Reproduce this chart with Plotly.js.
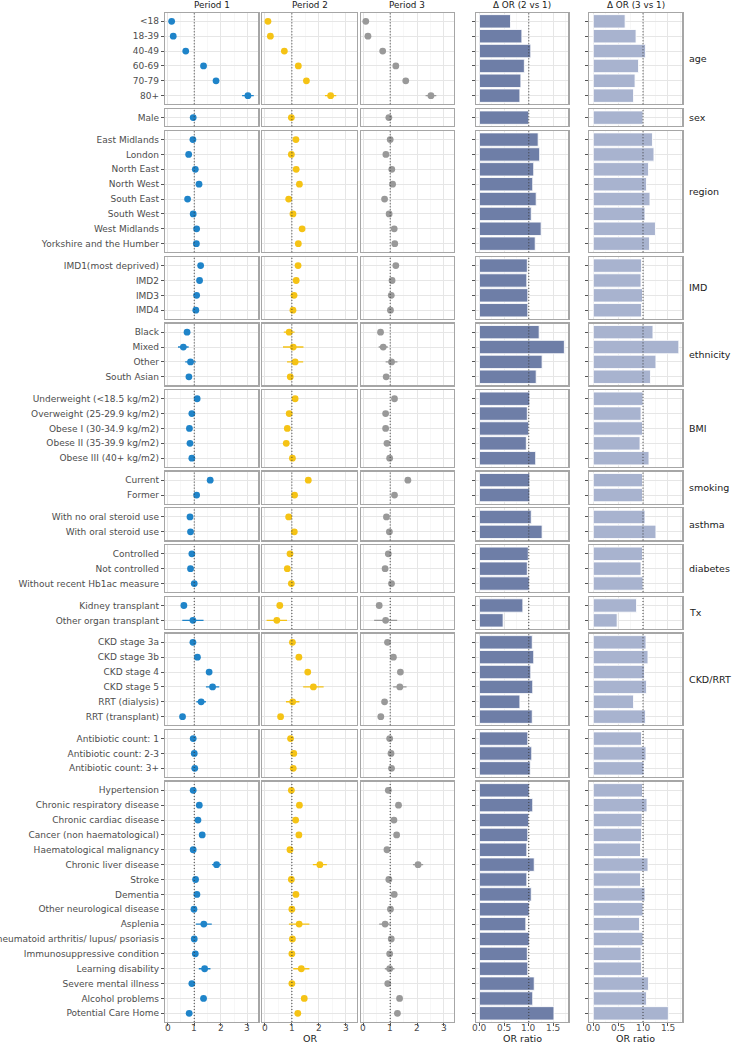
<!DOCTYPE html>
<html>
<head>
<meta charset="utf-8">
<script src="https://cdn.plot.ly/plotly-3.0.1.min.js"></script>
<style>
html,body{margin:0;padding:0;background:#fff;}
#chart{width:733px;height:1044px;}
</style>
</head>
<body>
<div id="chart"></div>
<script>
// ---------------- DATA ----------------
const columnTitles = ['Period 1', 'Period 2', 'Period 3', 'Δ OR (2 vs 1)', 'Δ OR (3 vs 1)'];
const facetLabels = ['age', 'sex', 'region', 'IMD', 'ethnicity', 'BMI', 'smoking', 'asthma', 'diabetes', 'Tx', 'CKD/RRT', '', ''];
const orTicks = [0, 1, 2, 3];
const ratioTicks = [0, 0.5, 1, 1.5];

const ageLabels = ['<18', '18-39', '40-49', '60-69', '70-79', '80+'];
const ageP1 = [0.15, 0.21, 0.68, 1.35, 1.82, 3.02];
const ageP2 = [0.11, 0.20, 0.72, 1.24, 1.54, 2.44];
const ageP3 = [0.09, 0.17, 0.72, 1.21, 1.58, 2.52];
const ageCI1 = [0.03, 0.03, 0.04, 0.05, 0.08, 0.22];
const ageCI2 = [0.03, 0.03, 0.04, 0.05, 0.08, 0.21];
const ageCI3 = [0.03, 0.03, 0.04, 0.05, 0.07, 0.20];
const ageD21 = [0.63, 0.86, 1.04, 0.91, 0.84, 0.82];
const ageD31 = [0.64, 0.86, 1.05, 0.91, 0.84, 0.81];

const sexLabels = ['Male'];
const sexP1 = [0.96];
const sexP2 = [0.98];
const sexP3 = [0.95];
const sexCI1 = [0.02];
const sexCI2 = [0.02];
const sexCI3 = [0.02];
const sexD21 = [1.0];
const sexD31 = [1.0];

const regionLabels = ['East Midlands', 'London', 'North East', 'North West', 'South East', 'South West', 'West Midlands', 'Yorkshire and the Humber'];
const regionP1 = [0.95, 0.79, 1.04, 1.18, 0.75, 0.96, 1.09, 1.08];
const regionP2 = [1.15, 0.98, 1.16, 1.28, 0.88, 1.04, 1.38, 1.24];
const regionP3 = [1.00, 0.84, 1.06, 1.09, 0.79, 0.96, 1.15, 1.17];
const regionCI1 = [0.04, 0.03, 0.05, 0.04, 0.03, 0.04, 0.04, 0.04];
const regionCI2 = [0.05, 0.04, 0.07, 0.05, 0.04, 0.05, 0.10, 0.05];
const regionCI3 = [0.04, 0.04, 0.05, 0.04, 0.03, 0.04, 0.05, 0.05];
const regionD21 = [1.19, 1.22, 1.10, 1.08, 1.15, 1.05, 1.25, 1.13];
const regionD31 = [1.19, 1.22, 1.11, 1.07, 1.14, 1.04, 1.25, 1.13];

const imdLabels = ['IMD1(most deprived)', 'IMD2', 'IMD3', 'IMD4'];
const imdP1 = [1.24, 1.20, 1.09, 1.06];
const imdP2 = [1.23, 1.16, 1.08, 1.04];
const imdP3 = [1.21, 1.07, 1.04, 1.01];
const imdCI1 = [0.04, 0.04, 0.03, 0.03];
const imdCI2 = [0.04, 0.04, 0.04, 0.03];
const imdCI3 = [0.04, 0.04, 0.03, 0.03];
const imdD21 = [0.97, 0.96, 0.98, 0.98];
const imdD31 = [0.97, 0.96, 0.99, 0.97];

const ethLabels = ['Black', 'Mixed', 'Other', 'South Asian'];
const ethP1 = [0.73, 0.59, 0.86, 0.80];
const ethP2 = [0.90, 1.05, 1.12, 0.94];
const ethP3 = [0.64, 0.74, 1.05, 0.85];
const ethCI1 = [0.10, 0.20, 0.20, 0.05];
const ethCI2 = [0.20, 0.38, 0.30, 0.06];
const ethCI3 = [0.06, 0.17, 0.22, 0.05];
const ethD21 = [1.21, 1.72, 1.27, 1.15];
const ethD31 = [1.20, 1.72, 1.26, 1.15];

const bmiLabels = ['Underweight (<18.5 kg/m2)', 'Overweight (25-29.9 kg/m2)', 'Obese I (30-34.9 kg/m2)', 'Obese II (35-39.9 kg/m2)', 'Obese III (40+ kg/m2)'];
const bmiP1 = [1.11, 0.91, 0.82, 0.84, 0.91];
const bmiP2 = [1.12, 0.90, 0.83, 0.79, 1.02];
const bmiP3 = [1.16, 0.83, 0.83, 0.88, 0.98];
const bmiCI1 = [0.06, 0.03, 0.03, 0.04, 0.05];
const bmiCI2 = [0.07, 0.03, 0.04, 0.05, 0.06];
const bmiCI3 = [0.06, 0.03, 0.03, 0.04, 0.05];
const bmiD21 = [1.02, 0.97, 1.00, 0.95, 1.14];
const bmiD31 = [1.00, 0.96, 0.99, 0.94, 1.12];

const smokLabels = ['Current', 'Former'];
const smokP1 = [1.60, 1.09];
const smokP2 = [1.61, 1.10];
const smokP3 = [1.66, 1.16];
const smokCI1 = [0.05, 0.03];
const smokCI2 = [0.06, 0.04];
const smokCI3 = [0.05, 0.04];
const smokD21 = [1.02, 1.02];
const smokD31 = [0.99, 0.99];

const asthLabels = ['With no oral steroid use', 'With oral steroid use'];
const asthP1 = [0.84, 0.86];
const asthP2 = [0.88, 1.09];
const asthP3 = [0.86, 0.97];
const asthCI1 = [0.03, 0.05];
const asthCI2 = [0.04, 0.07];
const asthCI3 = [0.03, 0.06];
const asthD21 = [1.05, 1.27];
const asthD31 = [1.04, 1.26];

const diabLabels = ['Controlled', 'Not controlled', 'Without recent Hb1ac measure'];
const diabP1 = [0.91, 0.86, 1.00];
const diabP2 = [0.93, 0.83, 0.98];
const diabP3 = [0.93, 0.81, 1.05];
const diabCI1 = [0.04, 0.04, 0.04];
const diabCI2 = [0.04, 0.05, 0.05];
const diabCI3 = [0.04, 0.04, 0.04];
const diabD21 = [0.99, 0.97, 1.01];
const diabD31 = [0.99, 0.96, 1.00];

const txLabels = ['Kidney transplant', 'Other organ transplant'];
const txP1 = [0.61, 0.95];
const txP2 = [0.55, 0.44];
const txP3 = [0.59, 0.83];
const txCI1 = [0.08, 0.40];
const txCI2 = [0.10, 0.38];
const txCI3 = [0.09, 0.43];
const txD21 = [0.88, 0.48];
const txD31 = [0.87, 0.48];

const ckdLabels = ['CKD stage 3a', 'CKD stage 3b', 'CKD stage 4', 'CKD stage 5', 'RRT (dialysis)', 'RRT (transplant)'];
const ckdP1 = [0.95, 1.12, 1.56, 1.69, 1.26, 0.56];
const ckdP2 = [1.02, 1.26, 1.59, 1.80, 1.03, 0.58];
const ckdP3 = [0.90, 1.12, 1.38, 1.36, 0.79, 0.65];
const ckdCI1 = [0.03, 0.05, 0.08, 0.25, 0.18, 0.06];
const ckdCI2 = [0.03, 0.06, 0.10, 0.38, 0.25, 0.08];
const ckdCI3 = [0.03, 0.05, 0.07, 0.25, 0.08, 0.08];
const ckdD21 = [1.07, 1.10, 1.04, 1.08, 0.82, 1.07];
const ckdD31 = [1.06, 1.10, 1.03, 1.07, 0.81, 1.05];

const abxLabels = ['Antibiotic count: 1', 'Antibiotic count: 2-3', 'Antibiotic count: 3+'];
const abxP1 = [0.96, 1.00, 1.02];
const abxP2 = [0.95, 1.07, 1.05];
const abxP3 = [0.98, 1.03, 1.05];
const abxCI1 = [0.03, 0.03, 0.03];
const abxCI2 = [0.03, 0.03, 0.03];
const abxCI3 = [0.03, 0.03, 0.03];
const abxD21 = [0.98, 1.06, 1.03];
const abxD31 = [0.97, 1.06, 1.02];

const comLabels = ['Hypertension', 'Chronic respiratory disease', 'Chronic cardiac disease', 'Cancer (non haematological)', 'Haematological malignancy', 'Chronic liver disease', 'Stroke', 'Dementia', 'Other neurological disease', 'Asplenia', 'Rheumatoid arthritis/ lupus/ psoriasis', 'Immunosuppressive condition', 'Learning disability', 'Severe mental illness', 'Alcohol problems', 'Potential Care Home'];
const comP1 = [0.96, 1.19, 1.14, 1.30, 0.96, 1.84, 1.05, 1.10, 0.99, 1.36, 1.00, 1.04, 1.39, 0.91, 1.35, 0.81];
const comP2 = [0.98, 1.28, 1.14, 1.26, 0.93, 2.04, 0.98, 1.15, 1.00, 1.27, 1.02, 1.00, 1.35, 1.00, 1.46, 1.22];
const comP3 = [0.93, 1.31, 1.14, 1.24, 0.88, 2.04, 0.95, 1.15, 1.01, 0.81, 1.04, 0.98, 0.98, 0.91, 1.35, 1.27];
const comCI1 = [0.03, 0.04, 0.04, 0.05, 0.05, 0.17, 0.05, 0.05, 0.05, 0.30, 0.05, 0.05, 0.22, 0.06, 0.06, 0.05];
const comCI2 = [0.03, 0.05, 0.04, 0.05, 0.06, 0.26, 0.05, 0.08, 0.05, 0.38, 0.05, 0.05, 0.30, 0.08, 0.07, 0.08];
const comCI3 = [0.03, 0.05, 0.04, 0.05, 0.05, 0.19, 0.05, 0.07, 0.05, 0.22, 0.05, 0.05, 0.18, 0.06, 0.06, 0.06];
const comD21 = [1.01, 1.08, 1.00, 0.98, 0.96, 1.11, 0.96, 1.05, 1.01, 0.94, 1.01, 0.97, 0.98, 1.11, 1.08, 1.51];
const comD31 = [0.99, 1.08, 0.98, 0.97, 0.95, 1.10, 0.95, 1.04, 1.00, 0.93, 1.00, 0.96, 0.97, 1.11, 1.07, 1.51];

// ---------------- BUILD ----------------
const groups = [
  [ageLabels, [ageP1, ageP2, ageP3], [ageCI1, ageCI2, ageCI3], [ageD21, ageD31]],
  [sexLabels, [sexP1, sexP2, sexP3], [sexCI1, sexCI2, sexCI3], [sexD21, sexD31]],
  [regionLabels, [regionP1, regionP2, regionP3], [regionCI1, regionCI2, regionCI3], [regionD21, regionD31]],
  [imdLabels, [imdP1, imdP2, imdP3], [imdCI1, imdCI2, imdCI3], [imdD21, imdD31]],
  [ethLabels, [ethP1, ethP2, ethP3], [ethCI1, ethCI2, ethCI3], [ethD21, ethD31]],
  [bmiLabels, [bmiP1, bmiP2, bmiP3], [bmiCI1, bmiCI2, bmiCI3], [bmiD21, bmiD31]],
  [smokLabels, [smokP1, smokP2, smokP3], [smokCI1, smokCI2, smokCI3], [smokD21, smokD31]],
  [asthLabels, [asthP1, asthP2, asthP3], [asthCI1, asthCI2, asthCI3], [asthD21, asthD31]],
  [diabLabels, [diabP1, diabP2, diabP3], [diabCI1, diabCI2, diabCI3], [diabD21, diabD31]],
  [txLabels, [txP1, txP2, txP3], [txCI1, txCI2, txCI3], [txD21, txD31]],
  [ckdLabels, [ckdP1, ckdP2, ckdP3], [ckdCI1, ckdCI2, ckdCI3], [ckdD21, ckdD31]],
  [abxLabels, [abxP1, abxP2, abxP3], [abxCI1, abxCI2, abxCI3], [abxD21, abxD31]],
  [comLabels, [comP1, comP2, comP3], [comCI1, comCI2, comCI3], [comD21, comD31]]
];

const W = 733, H = 1044;
const U = 14.87, PAD = 0.58, GAP = 4.7, TOP = 12.7;
const colPx = [[165, 258.3], [262.3, 356.7], [360.7, 454], [475.7, 568.3], [589.3, 682.3]];
const xRanges = [[-0.1, 3.41], [-0.1, 3.41], [-0.1, 3.38], [-0.075, 1.8], [-0.08, 1.79]];
const pointColors = ['#1f84c9', '#f5c315', '#999999'];
const barColors = ['#6e7ea7', '#a8b3cf'];

const FONT = 'DejaVu Sans, Liberation Sans, sans-serif';
const tickFont = {family: FONT, size: 9, color: '#4d4d4d'};
const borderColor = '#a6a6a6';
const gridColor = '#e6e6e6';
const minorGridColor = '#f2f2f2';

const traces = [];
const shapes = [];
const annotations = [];
const layout = {
  width: W, height: H,
  margin: {l: 0, r: 0, t: 0, b: 0},
  paper_bgcolor: '#ffffff',
  plot_bgcolor: '#ffffff',
  showlegend: false,
  font: {family: FONT, size: 9, color: '#4d4d4d'},
  shapes: shapes,
  annotations: annotations
};

let yCursor = TOP;
const nG = groups.length;
groups.forEach((g, r) => {
  const labels = g[0];
  const n = labels.length;
  const hPx = (n - 1 + 2 * PAD) * U;
  const top = yCursor, bottom = yCursor + hPx;
  yCursor = bottom + GAP;
  const yDom = [1 - bottom / H, 1 - top / H];
  const idxs = labels.map((_, i) => i);
  const isLast = r === nG - 1;

  for (let c = 0; c < 5; c++) {
    const k = r * 5 + c + 1;
    const xs = k === 1 ? 'x' : 'x' + k;
    const ys = k === 1 ? 'y' : 'y' + k;
    const xKey = k === 1 ? 'xaxis' : 'xaxis' + k;
    const yKey = k === 1 ? 'yaxis' : 'yaxis' + k;
    const isBar = c >= 3;
    const ticksArr = isBar ? ratioTicks : orTicks;

    layout[xKey] = {
      domain: [colPx[c][0] / W, colPx[c][1] / W],
      anchor: ys,
      range: xRanges[c],
      tickmode: 'array',
      tickvals: ticksArr,
      showticklabels: false,
      ticks: isLast ? 'outside' : '',
      ticklen: 3, tickwidth: 1, tickcolor: '#555555',
      showgrid: true, gridcolor: gridColor, gridwidth: 1,
      minor: {tickmode: 'array', tickvals: isBar ? [0.25, 0.75, 1.25, 1.75] : [0.5, 1.5, 2.5], showgrid: true, gridcolor: minorGridColor, gridwidth: 0.6, ticks: ''},
      zeroline: false,
      showline: true, mirror: true, linecolor: borderColor, linewidth: 1.2,
      fixedrange: true
    };
    layout[yKey] = {
      domain: yDom,
      anchor: xs,
      range: [n - 1 + PAD, -PAD],
      tickmode: 'array',
      tickvals: idxs,
      ticktext: labels,
      showticklabels: c === 0,
      ticks: (c === 0 || c >= 3) ? 'outside' : '',
      ticklen: 3, tickwidth: 1, tickcolor: '#555555',
      tickfont: tickFont,
      showgrid: true, gridcolor: gridColor, gridwidth: 1,
      zeroline: false,
      showline: true, mirror: true, linecolor: borderColor, linewidth: 1.2,
      fixedrange: true
    };

    if (!isBar) {
      traces.push({
        type: 'scatter', mode: 'markers',
        x: g[1][c], y: idxs,
        xaxis: xs, yaxis: ys,
        marker: {color: pointColors[c], size: 6.8},
        error_x: {type: 'data', array: g[2][c], visible: true, color: pointColors[c], thickness: 1.4, width: 0},
        hoverinfo: 'x+y'
      });
    } else {
      traces.push({
        type: 'bar', orientation: 'h',
        x: g[3][c - 3], y: idxs,
        xaxis: xs, yaxis: ys,
        width: 0.9,
        marker: {color: barColors[c - 3], line: {color: 'rgba(255,255,255,0.85)', width: 1}},
        hoverinfo: 'x+y'
      });
    }

    shapes.push({
      type: 'line', xref: xs, yref: ys + ' domain',
      x0: 1, x1: 1, y0: 0, y1: 1,
      line: {color: '#3a3a3a', width: 1, dash: '1px,2px'},
      layer: 'above'
    });

    // bottom tick labels placed through the axis scale
    if (isLast) {
      ticksArr.forEach(v => {
        annotations.push({
          xref: xs, yref: 'paper',
          x: v, y: 1 - 1027.8 / H,
          xanchor: 'center', yanchor: 'middle',
          text: isBar ? v.toFixed(1) : String(v), showarrow: false,
          font: tickFont
        });
      });
    }
  }

  // facet label on the right
  if (facetLabels[r]) {
    annotations.push({
      xref: 'paper', yref: 'paper',
      x: 687 / W, y: 1 - (top + bottom) / 2 / H,
      xanchor: 'left', yanchor: 'middle',
      text: facetLabels[r], showarrow: false,
      font: {family: FONT, size: 9.5, color: '#1a1a1a'}
    });
  }
});

// column titles
columnTitles.forEach((t, c) => {
  annotations.push({
    xref: 'paper', yref: 'paper',
    x: (colPx[c][0] + colPx[c][1]) / 2 / W, y: 1 - 5.5 / H,
    xanchor: 'center', yanchor: 'middle',
    text: t, showarrow: false,
    font: {family: FONT, size: 8.8, color: '#1a1a1a'}
  });
});

// axis titles
const axisTitles = [['OR', 1], ['OR ratio', 3], ['OR ratio', 4]];
axisTitles.forEach(([t, c]) => {
  annotations.push({
    xref: 'paper', yref: 'paper',
    x: (colPx[c][0] + colPx[c][1]) / 2 / W, y: 1 - 1038.8 / H,
    xanchor: 'center', yanchor: 'middle',
    text: t, showarrow: false,
    font: {family: FONT, size: 9.5, color: '#1a1a1a'}
  });
});

Plotly.newPlot('chart', traces, layout, {staticPlot: true, displayModeBar: false});
</script>
</body>
</html>
